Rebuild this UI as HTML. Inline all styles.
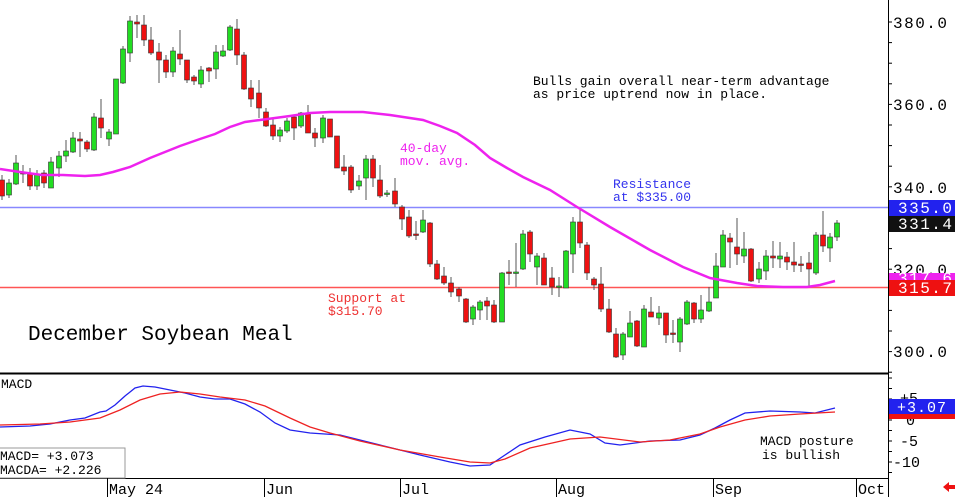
<!DOCTYPE html>
<html><head><meta charset="utf-8"><style>
body{margin:0;background:#fff;}
svg text{font-family:"Liberation Mono",monospace;}
</style></head><body>
<svg id="s" width="955" height="497" xmlns="http://www.w3.org/2000/svg">
<rect width="955" height="497" fill="#fff"/>
<line x1="0" y1="207.5" x2="888" y2="207.5" stroke="#8888ff" stroke-width="1.5"/>
<line x1="0" y1="287.5" x2="888" y2="287.5" stroke="#ff5555" stroke-width="1.5"/>
<g id="c"></g>
<polyline fill="none" stroke="#ee22ee" stroke-width="2.5" points="0,169 20,172 42,175 63,175 85,176 100,175 113,172 130,167 150,158 165,152 180,146 200,139 215,134 230,127 245,122 260,120 275,118 290,116 310,113 330,112 363,112 390,115 423,120 440,126 457,133 475,145 490,158 507,168 523,177 550,190 577,207 610,227 650,250 683,267 710,278 737,283 757,286 783,287 807,287 820,285 835,281"/>
<text x="533" y="85" font-size="13">Bulls gain overall near-term advantage</text>
<text x="533" y="98" font-size="13">as price uptrend now in place.</text>
<text x="400" y="152" font-size="13" fill="#ee22ee">40-day</text>
<text x="400" y="165" font-size="13" fill="#ee22ee">mov. avg.</text>
<text x="613" y="188" font-size="13" fill="#3333ee">Resistance</text>
<text x="613" y="201" font-size="13" fill="#3333ee">at $335.00</text>
<text x="328" y="302" font-size="13" fill="#ee3333">Support at</text>
<text x="328" y="315" font-size="13" fill="#ee3333">$315.70</text>
<text x="28" y="340" font-size="21">December Soybean Meal</text>
<line x1="0" y1="373.5" x2="888" y2="373.5" stroke="#000" stroke-width="2"/>
<line x1="888.5" y1="0" x2="888.5" y2="497" stroke="#000" stroke-width="1"/>
<line x1="0" y1="478.5" x2="888" y2="478.5" stroke="#000" stroke-width="1"/>
<g id="t" stroke="#000"></g>
<text x="893" y="28" font-size="16" letter-spacing="1.5">380.0</text>
<text x="893" y="110" font-size="16" letter-spacing="1.5">360.0</text>
<text x="893" y="193" font-size="16" letter-spacing="1.5">340.0</text>
<text x="893" y="275" font-size="16" letter-spacing="1.5">320.0</text>
<text x="893" y="357" font-size="16" letter-spacing="1.5">300.0</text>
<rect x="889" y="200" width="66" height="16" fill="#2222ee"/>
<text x="898" y="213" font-size="16" letter-spacing="1.5" fill="#fff">335.0</text>
<rect x="889" y="216" width="66" height="16" fill="#111"/>
<text x="898" y="229" font-size="16" letter-spacing="1.5" fill="#fff">331.4</text>
<rect x="889" y="273" width="66" height="8" fill="#ee22ee"/>
<text x="898" y="283" font-size="16" letter-spacing="1.5" fill="#fff">317.6</text>
<rect x="889" y="280" width="66" height="16" fill="#ee1111"/>
<text x="898" y="293" font-size="16" letter-spacing="1.5" fill="#fff">315.7</text>
<polyline fill="none" stroke="#2222ee" stroke-width="1.3" points="0,427 30,426 50,424 70,420 85,418 100,412 106,411 115,405 125,396 135,388 143,386 155,387 170,390 185,393 200,397 215,399 230,399 245,404 260,412 275,423 290,430 310,433 340,435 380,445 420,455 450,462 470,466 490,465 505,455 520,445 545,437 570,430 590,434 605,443 620,445 650,441 680,440 700,435 715,428 730,420 745,413 770,411 800,412 815,413 835,408"/>
<polyline fill="none" stroke="#ee2222" stroke-width="1.3" points="0,425 40,424 70,422 100,418 120,410 140,400 160,394 180,392 200,394 220,397 245,400 265,406 290,418 310,427 330,433 360,441 400,450 440,457 470,462 490,463 505,459 530,448 570,439 600,437 640,442 670,440 700,434 720,427 745,420 770,416 800,414 835,412"/>
<text x="1" y="388" font-size="13">MACD</text>
<rect x="-1" y="448" width="126" height="30" fill="#fff" stroke="#999"/>
<text x="0" y="460" font-size="13">MACD=  +3.073</text>
<text x="0" y="474" font-size="13">MACDA= +2.226</text>
<text x="760" y="445" font-size="13">MACD posture</text>
<text x="762" y="459" font-size="13">is bullish</text>
<text x="900" y="403" font-size="15">+5</text>
<text x="906" y="425" font-size="15">0</text>
<text x="900" y="446" font-size="15">-5</text>
<text x="893" y="467" font-size="15">-10</text>
<rect x="889" y="399" width="66" height="15" fill="#2222ee"/>
<text x="897" y="412" font-size="15" fill="#fff" letter-spacing="1">+3.07</text>
<rect x="889" y="414" width="66" height="5" fill="#ee1111"/>
<g font-size="15">
<line x1="107.5" y1="478" x2="107.5" y2="497" stroke="#000"/><text x="109" y="494">May 24</text>
<line x1="264.5" y1="478" x2="264.5" y2="497" stroke="#000"/><text x="266" y="494">Jun</text>
<line x1="400.5" y1="478" x2="400.5" y2="497" stroke="#000"/><text x="402" y="494">Jul</text>
<line x1="556.5" y1="478" x2="556.5" y2="497" stroke="#000"/><text x="558" y="494">Aug</text>
<line x1="713.5" y1="478" x2="713.5" y2="497" stroke="#000"/><text x="715" y="494">Sep</text>
<line x1="856.5" y1="478" x2="856.5" y2="497" stroke="#000"/><text x="858" y="494">Oct</text>
</g>
<polygon points="943,487 949,482 949,485 955,485 955,489 949,489 949,492" fill="#ee1111"/>
</svg>
<script>
var d=[
[0,180,196,175,200],[7,195,183,179,198],[14,184,163,155,185],[21,172,174,165,183],[28,174,186,168,190],[35,186,174,170,190],[42,173,183,170,188],[49,188,162,157,188],[57,168,156,151,177],[64,156,151,140,162],[71,152,138,132,153],[78,139,141,132,157],[85,142,149,140,152],[92,150,117,113,151],[99,118,128,99,138],[107,139,132,129,146],[114,134,79,79,134],[121,83,49,46,84],[128,53,21,16,62],[135,22,24,15,38],[142,25,40,15,46],[149,40,53,27,55],[157,52,60,43,83],[164,60,72,55,78],[171,72,51,47,77],[178,54,59,30,65],[185,60,80,60,83],[192,77,81,75,85],[199,84,70,66,88],[207,68,71,67,82],[214,69,52,45,79],[221,56,51,45,57],[228,50,27,25,51],[235,29,55,19,65],[242,55,89,52,90],[249,88,99,80,107],[257,93,108,80,118],[264,112,126,108,127],[271,125,136,118,140],[278,136,130,127,142],[285,131,121,118,133],
[292,117,128,115,140],[299,126,113,112,128],[306,114,133,105,133],[313,133,138,128,147],[321,138,118,115,143],[328,119,137,119,137],[335,136,168,136,168],[342,167,171,155,175],[349,167,190,165,193],[357,186,181,175,190],[364,178,159,155,200],[371,159,178,155,187],[378,180,196,165,198],[385,194,193,190,197],[393,191,204,178,207],[400,207,219,205,230],[407,217,236,210,238],[414,234,234,221,240],[421,232,220,210,233],[428,223,264,222,267],[435,264,279,260,280],[442,276,283,267,285],[449,283,292,277,297],[457,289,296,287,302],[464,299,322,298,323],[471,319,307,305,325],[478,310,302,300,320],[485,301,306,297,320],[492,305,322,300,323],[500,322,273,272,322],[507,272,273,260,285],[514,273,272,243,287],[521,269,234,230,270],[528,232,254,230,262],[535,267,256,253,285],[542,258,285,253,285],[550,278,287,267,295],[557,287,286,277,297],[564,288,251,250,288],[571,254,222,217,273],[578,222,243,208,248],[585,245,273,242,280],
[592,279,285,277,290],[599,284,309,267,312],[607,309,332,299,333],[614,334,357,328,358],[621,355,334,332,360],[628,337,323,311,337],[635,321,346,320,347],[642,347,309,305,347],[649,312,317,297,317],[657,318,313,306,325],[664,313,335,313,343],[671,333,333,320,343],[678,342,319,317,352],[685,324,302,300,325],[692,303,319,302,323],[699,319,310,295,323],[707,311,302,287,312],[714,298,266,253,298],[721,267,235,230,267],[728,238,242,233,268],[735,247,254,218,265],[742,256,249,232,263],[749,249,281,248,282],[757,279,269,262,283],[764,271,256,250,280],[771,256,258,241,268],[778,259,256,242,268],[785,257,262,252,270],[792,262,265,242,272],[799,264,264,256,272],[807,263,269,252,287],[814,273,235,232,275],[821,235,246,211,252],[828,248,237,233,262],[835,237,223,220,241]];
var g=document.getElementById('c'),h='';
d.forEach(function(c){var x=c[0]+2,o=c[1],cl=c[2],top=Math.min(o,cl),b=Math.max(o,cl),up=cl<o;
h+='<line x1="'+x+'" y1="'+c[3]+'" x2="'+x+'" y2="'+c[4]+'" stroke="#555" stroke-width="1"/>';
h+='<rect x="'+(x-2.5)+'" y="'+top+'" width="5" height="'+Math.max(1.5,b-top)+'" fill="'+(up?'#22dd22':'#ee1111')+'" stroke="#333" stroke-width="0.6"/>';});
g.innerHTML=h;
var t=document.getElementById('t'),s='';
for(var y=22;y<=373;y+=20.6)s+='<line x1="888" y1="'+y+'" x2="892" y2="'+y+'"/>';
for(var y=378;y<=475;y+=10.5)s+='<line x1="888" y1="'+y+'" x2="892" y2="'+y+'"/>';
t.innerHTML=s;
</script>
</body></html>
